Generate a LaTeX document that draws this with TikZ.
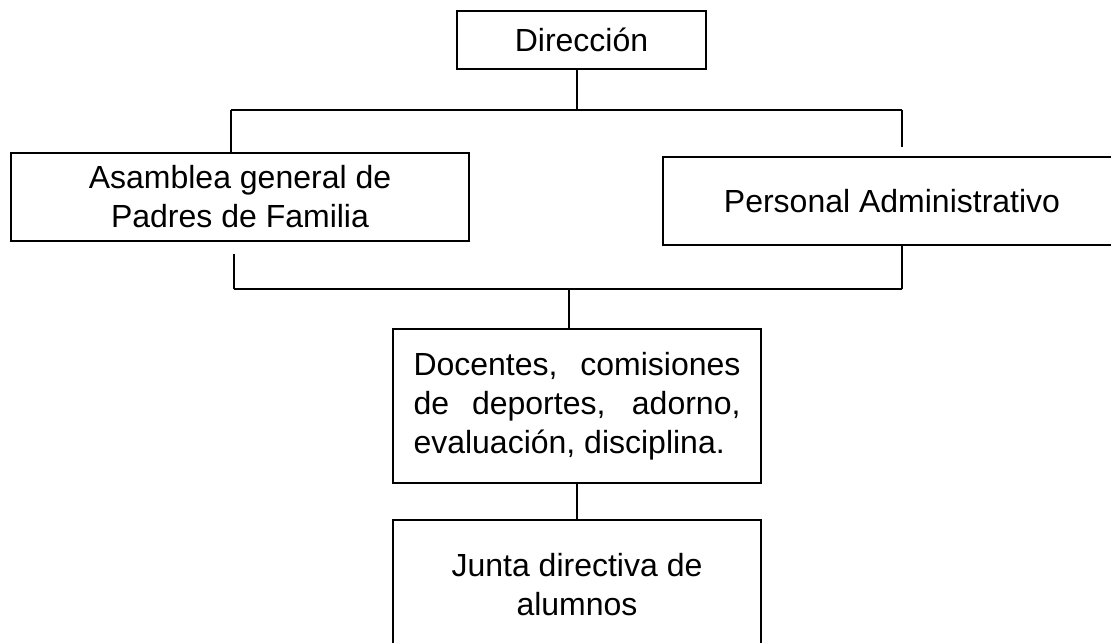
\documentclass[tikz,border=0pt]{standalone}
\usepackage{fontspec}
\setmainfont{Liberation Sans}
\usetikzlibrary{positioning}

\begin{document}
\begin{tikzpicture}[x=0.5pt, y=-0.5pt,
    box/.style={draw, line width=1.2pt, align=center, inner sep=0pt,
        font=\fontsize{16pt}{19.5pt}\selectfont},
    link/.style={line width=0.9pt}]
    \useasboundingbox (0,0) rectangle (1111,642);

    \node [box, minimum width=124.5pt, minimum height=29pt] (dir) at (581.5,40) {Dirección};
    \node [box, minimum width=229pt, minimum height=44pt] (asam) at (240,197)
        {Asamblea general de\\Padres de Familia};
    \node [box, minimum width=229pt, minimum height=44pt] (admin) at (892,201)
        {Personal Administrativo};
    \node [box, minimum width=184pt, minimum height=77pt, text width=163.5pt, align=justify]
        (doc) at (577,406) {Docentes, comisiones de deportes, adorno, evaluación, disciplina.};
    \node [box, minimum width=184pt, minimum height=65pt] (alum) at (577,585)
        {Junta directiva de\\alumnos};

    \coordinate (topL) at (231,110);
    \coordinate (topR) at (902,110);
    \coordinate (dropR) at (902,147);
    \coordinate (lowL) at (234,289);
    \coordinate (lowR) at (902,289);
    \coordinate (lowM) at (569,289);

    \draw [link] ([xshift=-2.25pt]dir.south) -- ([xshift=-2.25pt]dir.south |- topL);
    \draw [link] (topL) -- (topR);
    \draw [link] (topL) -- (topL |- asam.north);
    \draw [link] (topR) -- (dropR);
    \draw [link] (lowL |- 0,254) -- (lowL);
    \draw [link] (admin.south -| lowR) -- (lowR);
    \draw [link] (lowL) -- (lowR);
    \draw [link] (lowM) -- (lowM |- doc.north);
    \draw [link] (doc.south) -- (alum.north);
\end{tikzpicture}
\end{document}
